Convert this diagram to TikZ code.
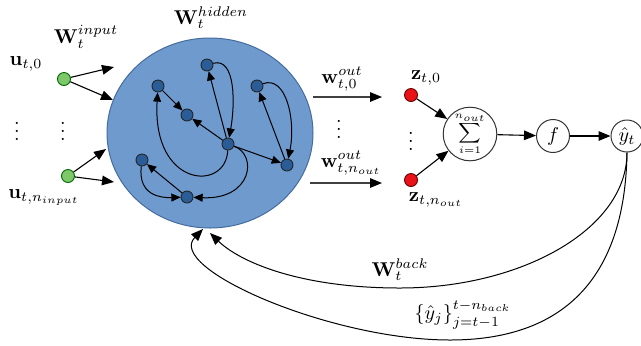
\documentclass[tikz,border=0pt]{standalone}
\usepackage{amsmath}
\usetikzlibrary{arrows.meta,shapes.geometric}
\definecolor{resfill}{RGB}{110,154,206}
\definecolor{resdraw}{RGB}{70,108,158}
\definecolor{hidfill}{RGB}{42,92,152}
\definecolor{infill}{RGB}{125,200,105}
\definecolor{outfill}{RGB}{232,18,24}
\begin{document}
\begin{tikzpicture}[x=0.5pt,y=-0.5pt,
  hid/.style={circle,draw=black!85,fill=hidfill,inner sep=0pt,minimum size=6pt,line width=0.45pt},
  inp/.style={circle,draw=black!60!green,fill=infill,inner sep=0pt,minimum size=6.5pt,line width=0.45pt},
  outn/.style={circle,draw=black!60!red,fill=outfill,inner sep=0pt,minimum size=6.5pt,line width=0.45pt},
  unit/.style={circle,draw=black!80,fill=white,inner sep=0pt,line width=0.5pt},
  arr/.style={-{Triangle[length=6pt,width=4.8pt,color=black]},line width=0.55pt},
  harr/.style={-{Triangle[length=4.6pt,width=4pt]},line width=0.5pt},
  lbl/.style={inner sep=0pt}
]
\useasboundingbox (0,0) rectangle (641,345);
\node[ellipse,draw=resdraw,fill=resfill,minimum width=103pt,minimum height=95pt,inner sep=0pt,line width=0.5pt] (res) at (210,133) {};
% hidden units
\node[hid] (n1) at (158,86) {};
\node[hid] (n2) at (207,65) {};
\node[hid] (n3) at (257,86) {};
\node[hid] (n4) at (187,115) {};
\node[hid] (n5) at (228,144) {};
\node[hid] (n6) at (142,160) {};
\node[hid] (n7) at (287,165) {};
\node[hid] (n8) at (187,197) {};
\draw[harr] (n1) -- (n4);
\draw[harr] (n5) -- (n4);
\draw[harr] (n5) -- (n2);
\draw[harr] (n2) .. controls (236,57) and (235,105) .. (n5);
\draw[harr] (n7) -- (n3);
\draw[harr] (n3) .. controls (286,75) and (296,120) .. (n7);
\draw[harr] (n5) -- (n7);
\draw[harr] (n5) .. controls (226,192) and (152,188) .. (n1);
\draw[harr] (n5) .. controls (258,155) and (252,200) .. (n8);
\draw[harr] (n8) -- (n6);
\draw[harr] (n6) .. controls (138,195) and (160,198) .. (n8);
% inputs
\node[inp] (u0) at (64,79) {};
\node[inp] (un) at (68,176) {};
\coordinate (i1) at (114,67);
\coordinate (i2) at (113,100);
\coordinate (i3) at (106,149);
\coordinate (i4) at (114,182);
\draw[arr] (u0) -- (i1);
\draw[arr] (u0) -- (i2);
\draw[arr] (un) -- (i3);
\draw[arr] (un) -- (i4);
\node[lbl] (Whid) at (211,18) {$\mathbf{W}_t^{hidden}$};
\node[lbl] (Win) at (86,37) {$\mathbf{W}_t^{input}$};
\node[lbl] (lu0) at (26,64) {$\mathbf{u}_{t,0}$};
\node[lbl] (lun) at (44,198) {$\mathbf{u}_{t,n_{input}}$};
\node[lbl] (d1) at (17,125) {$\vdots$};
\node[lbl] (d2) at (63,125) {$\vdots$};
% outputs
\coordinate (o1s) at (313,97);
\coordinate (o1e) at (382,97);
\coordinate (o2s) at (310,183);
\coordinate (o2e) at (382,183);
\draw[arr,draw=black!75] (o1s) -- (o1e);
\draw[arr,draw=black!75] (o2s) -- (o2e);
\node[lbl] (lw0) at (342,79) {$\mathbf{w}_{t,0}^{out}$};
\node[lbl] (lwn) at (351,163) {$\mathbf{w}_{t,n_{out}}^{out}$};
\node[lbl] (d3) at (339,123) {$\vdots$};
\node[outn] (z0) at (411,95) {};
\node[outn] (zn) at (411,180) {};
\node[lbl] (lz0) at (426,78) {$\mathbf{z}_{t,0}$};
\node[lbl] (lzn) at (436,200) {$\mathbf{z}_{t,n_{out}}$};
\node[lbl] (d4) at (411,135) {$\vdots$};
\node[unit,minimum size=25pt] (sum) at (470,134) {\scriptsize$\displaystyle\sum_{i=1}^{n_{out}}$};
\node[unit,minimum size=16.5pt] (f) at (553,136) {$f$};
\node[unit,minimum size=16pt] (yhat) at (627,136) {$\hat{y}_t$};
\draw[arr] (z0) -- (sum);
\draw[arr] (zn) -- (sum);
\draw[arr] (sum) -- (f);
\draw[arr] (f) -- (yhat);
% feedback
\coordinate (fb1) at (210,233);
\coordinate (fb2) at (203,229);
\draw[arr,line width=0.5pt] (yhat.south) .. controls (627,230) and (520,288) .. (400,288) .. controls (300,288) and (240,262) .. (fb1);
\draw[arr,line width=0.5pt] (yhat.south) .. controls (625,282) and (560,340) .. (450,340) .. controls (330,340) and (165,268) .. (fb2);
\node[lbl] (lback) at (400,270) {$\mathbf{W}_t^{back}$};
\node[lbl] (lyj) at (463,315) {$\left\{\hat{y}_j\right\}_{j=t-1}^{t-n_{back}}$};
\end{tikzpicture}
\end{document}
